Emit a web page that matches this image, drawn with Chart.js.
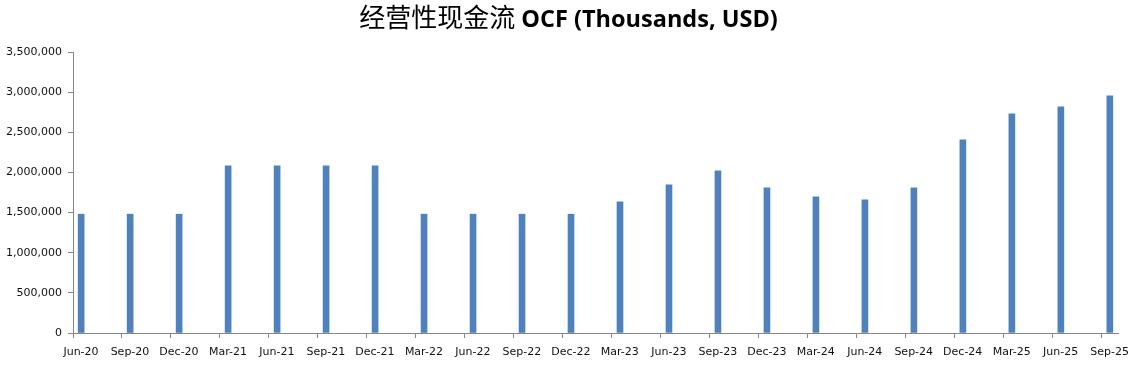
<!DOCTYPE html>
<html>
<head>
<meta charset="utf-8">
<script src="https://cdn.jsdelivr.net/npm/chart.js@4"></script>
<style>
  html, body { margin: 0; padding: 0; background: #fff; }
  #wrap { width: 1137px; height: 367px; }
</style>
</head>
<body>
<div id="wrap"><canvas id="ocfChart"></canvas></div>
<script>
// quarter end labels and OCF values (thousands USD)
const quarters = ['Jun-20', 'Sep-20', 'Dec-20', 'Mar-21', 'Jun-21', 'Sep-21', 'Dec-21', 'Mar-22',
    'Jun-22', 'Sep-22', 'Dec-22', 'Mar-23', 'Jun-23', 'Sep-23', 'Dec-23', 'Mar-24',
    'Jun-24', 'Sep-24', 'Dec-24', 'Mar-25', 'Jun-25', 'Sep-25'];
const ocfValues = [1480000, 1480000, 1480000, 2082000, 2082000, 2082000, 2082000, 1480000,
    1480000, 1480000, 1480000, 1633000, 1845000, 2020000, 1808000, 1696000,
    1658000, 1808000, 2406000, 2731000, 2818000, 2955000];
const yTicks = [0, 500000, 1000000, 1500000, 2000000, 2500000, 3000000, 3500000];

const titleCn = '经营性现金流';
const titleEn = ' OCF (Thousands, USD)';

// date-style axis: one unit per month, a quarter every 3 months
const MONTHS_PER_Q = 3;
const totalMonths = quarters.length * MONTHS_PER_Q - 2;

// title drawn in two runs (CJK regular + latin bold)
const twoPartTitle = {
    id: 'twoPartTitle',
    afterDraw(chart) {
        const ctx = chart.ctx;
        ctx.save();
        const cnFont = '26px "Noto Sans CJK SC"';
        const enFont = 'bold 23.5px "Open Sans"';
        ctx.font = cnFont;
        const wCn = ctx.measureText(titleCn).width;
        ctx.font = enFont;
        const wEn = ctx.measureText(titleEn).width;
        let x = chart.width / 2 - (wCn + wEn) / 2;
        const y = 27;
        ctx.fillStyle = '#000';
        ctx.textBaseline = 'alphabetic';
        ctx.font = cnFont;
        ctx.fillText(titleCn, x, y);
        ctx.font = enFont;
        ctx.fillText(titleEn, x + wCn, y);
        ctx.restore();
    }
};

const ctx = document.getElementById('ocfChart').getContext('2d');
new Chart(ctx, {
    type: 'bar',
    data: {
        datasets: [{
            label: 'OCF',
            data: ocfValues.map((v, i) => ({ x: i * MONTHS_PER_Q + 0.5, y: v })),
            backgroundColor: '#4F81BD',
            borderWidth: 0,
            barThickness: 6
        }]
    },
    options: {
        responsive: true,
        maintainAspectRatio: false,
        animation: false,
        layout: { padding: { top: 52, right: 19, left: 0, bottom: 0 } },
        plugins: {
            legend: { display: false },
            title: { display: false },
            tooltip: { enabled: false }
        },
        scales: {
            x: {
                type: 'linear',
                min: 0,
                max: totalMonths,
                offset: false,
                afterBuildTicks: (scale) => {
                    scale.ticks = quarters.map((_, i) => ({ value: i * MONTHS_PER_Q }));
                },
                afterFit: (scale) => { scale.height = 34; },
                grid: { drawOnChartArea: false, offset: false, tickLength: 5, color: '#868686' },
                border: { color: '#868686' },
                ticks: {
                    autoSkip: false,
                    maxRotation: 0,
                    padding: 8,
                    labelOffset: 8, // labels sit mid-month, like the bars
                    color: '#111',
                    font: { family: 'DejaVu Sans', size: 11 },
                    callback: (value) => quarters[Math.round(value / MONTHS_PER_Q)]
                }
            },
            y: {
                min: 0,
                max: yTicks[yTicks.length - 1],
                afterBuildTicks: (scale) => {
                    scale.ticks = yTicks.map(v => ({ value: v }));
                },
                afterFit: (scale) => { scale.width = 73; },
                grid: { drawOnChartArea: false, tickLength: 5, color: '#868686' },
                border: { color: '#868686' },
                ticks: {
                    padding: 6,
                    color: '#111',
                    font: { family: 'DejaVu Sans', size: 11 },
                    callback: (value) => value.toLocaleString('en-US')
                }
            }
        }
    },
    plugins: [twoPartTitle]
});
</script>
</body>
</html>
